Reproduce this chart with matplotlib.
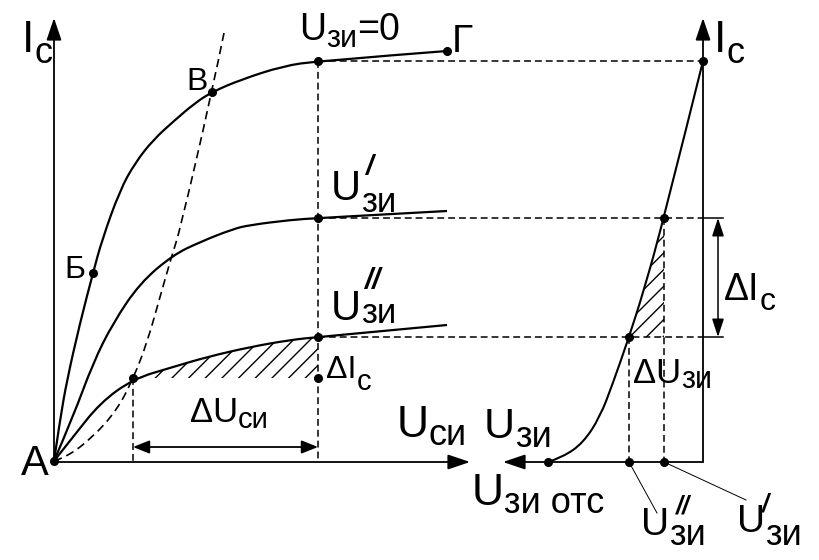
import matplotlib
matplotlib.use("Agg")
import matplotlib.pyplot as plt
from matplotlib.path import Path
from matplotlib.patches import PathPatch

plt.rcParams['font.family'] = ['Liberation Sans', 'DejaVu Sans']
plt.rcParams['hatch.linewidth'] = 1.0

# output characteristics, points (pixel units, y down)
curve_u0_x = [54, 60, 67, 80, 93, 102, 120, 135, 153, 175, 195, 212, 240, 283, 318, 447]
curve_u0_y = [461, 420, 380, 323, 273, 240, 190, 163, 140, 120, 103, 92, 80, 66, 61, 51]
curve_u1_x = [54, 73, 93, 113, 140, 173, 200, 233, 250, 290, 318, 447]
curve_u1_y = [461, 417, 363, 323, 283, 255, 242, 229, 225, 220, 218, 211]
curve_u2_x = [54, 73, 100, 133, 173, 207, 250, 290, 318, 447]
curve_u2_y = [461, 437, 403, 379, 367, 357, 347, 340, 337, 325]

# saturation border (dashed parabola)
border_x = [54, 67, 93, 117, 133, 147, 160, 172, 180, 212, 224]
border_y = [461, 457, 437, 410, 379, 343, 297, 255, 230, 92, 33]

# transfer characteristic
transfer_x = [548, 563, 583, 600, 613, 629, 644, 664, 703]
transfer_y = [462, 457, 443, 417, 383, 337, 290, 218, 61]

# reading points
u_read = 318                 # U_си where the currents are read
ic_levels = [61, 218, 337]   # I_c for U_зи = 0, U', U''
ic_low = 378                 # I_c at the left end of the hatched step
u_left = 133                 # U_си at the left end of the step
ug_x = [548, 629, 664]       # U_зи отс, U'', U'
left_origin = (54, 462)
right_origin = (703, 462)
axis_top = 18
left_axis_end = 470
right_axis_end = 503

fig = plt.figure(figsize=(8.19, 5.6), dpi=100)
ax = fig.add_axes([0, 0, 1, 1])
ax.set_xlim(0, 819)
ax.set_ylim(560, 0)
ax.axis('off')
renderer = fig.canvas.get_renderer()

K = 'black'
DASH = (0, (4.5, 2.6))


def smooth_path(xs, ys):
    verts = [(xs[0], ys[0])]
    codes = [Path.MOVETO]
    n = len(xs)
    for i in range(1, n - 1):
        verts.append((xs[i], ys[i]))
        if i < n - 2:
            verts.append(((xs[i] + xs[i + 1]) / 2, (ys[i] + ys[i + 1]) / 2))
        else:
            verts.append((xs[-1], ys[-1]))
        codes += [Path.CURVE3, Path.CURVE3]
    return verts, codes


def draw_curve(xs, ys, **kw):
    verts, codes = smooth_path(xs, ys)
    ax.add_patch(PathPatch(Path(verts, codes), facecolor='none', **kw))


def arrow(start, end, style='-|>', hl=0.68, hw=0.23, lw=1.3):
    ax.annotate('', xy=end, xytext=start,
                arrowprops=dict(arrowstyle=f'{style},head_length={hl},head_width={hw}',
                                lw=lw, color=K, shrinkA=0, shrinkB=0,
                                mutation_scale=20))


def label(x, y, main, size, sub='', sub_size=None, drop=0, tail='', mark=None):
    t = ax.text(x, y, main, fontsize=size, va='baseline', ha='left', color=K)
    bb = t.get_window_extent(renderer)
    x_end = ax.transData.inverted().transform((bb.x1, bb.y0))[0]
    if sub:
        s = ax.text(x_end, y + drop, sub, fontsize=sub_size, va='baseline', ha='left', color=K)
        bb = s.get_window_extent(renderer)
        sub_end = ax.transData.inverted().transform((bb.x1, bb.y0))[0]
        if tail:
            ax.text(sub_end, y, tail, fontsize=size, va='baseline', ha='left', color=K)
    if mark:
        txt, mx, my, msize = mark
        ax.text(mx, my, txt, fontsize=msize, va='baseline', ha='left', color=K,
                style='italic', weight='bold')


# axes
arrow(left_origin, (left_origin[0], axis_top))
arrow(left_origin, (left_axis_end, left_origin[1]))
arrow(right_origin, (right_origin[0], axis_top))
arrow(right_origin, (right_axis_end, right_origin[1]))

# guide lines
ax.plot([u_read, u_read], [ic_levels[0], left_origin[1]], color=K, lw=1.1, ls=DASH)
ax.plot([u_left, u_left], [ic_low, left_origin[1]], color=K, lw=1.1, ls=DASH)
ax.plot([u_read, right_origin[0]], [ic_levels[0]] * 2, color=K, lw=1.1, ls=DASH)
for lev in ic_levels[1:]:
    ax.plot([u_read, right_origin[0]], [lev, lev], color=K, lw=1.1, ls=DASH)
    ax.plot([right_origin[0], right_origin[0] + 20], [lev, lev], color=K, lw=1.1)
ax.plot([ug_x[1], ug_x[1]], [ic_levels[2], right_origin[1]], color=K, lw=1.1, ls=DASH)
ax.plot([ug_x[2], ug_x[2]], [ic_levels[1], right_origin[1]], color=K, lw=1.1, ls=DASH)

# hatched increments
verts, codes = smooth_path(curve_u2_x[3:9], curve_u2_y[3:9])
verts += [(u_read, ic_low), (u_left, ic_low), verts[0]]
codes += [Path.LINETO, Path.LINETO, Path.CLOSEPOLY]
ax.add_patch(PathPatch(Path(verts, codes), facecolor='none', edgecolor=K, lw=0, hatch='//'))
tri_x = transfer_x[5:8] + [ug_x[2]]
tri_y = transfer_y[5:8] + [ic_levels[2]]
ax.fill(tri_x, tri_y, facecolor='none', edgecolor=K, lw=0, hatch='//')

# curves
for xs, ys in [(curve_u0_x, curve_u0_y), (curve_u1_x, curve_u1_y), (curve_u2_x, curve_u2_y)]:
    draw_curve(xs, ys, edgecolor=K, lw=1.6)
draw_curve(border_x, border_y, edgecolor=K, lw=1.2, ls=(0, (5, 3)))
draw_curve(transfer_x, transfer_y, edgecolor=K, lw=1.5)

# increment arrows
arrow((u_left, 447), (u_read, 447), style='<|-|>', hl=0.5, hw=0.2, lw=1.3)
arrow((718, ic_levels[1]), (718, ic_levels[2]), style='<|-|>', hl=0.55, hw=0.18, lw=1.1)

# leaders
ax.plot([ug_x[1], 657], [right_origin[1], 513], color=K, lw=0.7)
ax.plot([ug_x[2], 746], [right_origin[1], 500], color=K, lw=0.7)

# points
dots_x = [54, 93, 212, u_read, 447, u_read, u_read, u_left, u_read,
          right_origin[0], ug_x[2], ug_x[1], ug_x[0], ug_x[1], ug_x[2]]
dots_y = [461, 273, 92, ic_levels[0], 51, ic_levels[1], ic_levels[2], ic_low, ic_low,
          ic_levels[0], ic_levels[1], ic_levels[2], 462, 462, 462]
ax.plot(dots_x, dots_y, 'o', color=K, ms=5.5, ls='none')

# text
label(22, 52, 'I', 32, 'c', 26, 11)
label(714, 52, 'I', 32, 'c', 26, 11)
label(299, 40, 'U', 27, 'зи', 22, 7, tail='=0')
label(452, 52, 'Г', 28)
label(186, 90, 'В', 23)
label(64, 278, 'Б', 23)
label(21, 475, 'А', 30)
label(331, 200, 'U', 30, 'зи', 25, 12, mark=('/', 365, 174, 20))
label(331, 320, 'U', 30, 'зи', 25, 3, mark=('//', 364, 289, 21))
label(326, 378, 'ΔI', 23, 'c', 21, 12)
label(190, 422, 'ΔU', 25, 'си', 21, 6)
label(397, 437, 'U', 32, 'си', 26, 8)
label(484, 438, 'U', 31, 'зи', 26, 9)
label(472, 505, 'U', 32, 'зи отс', 26, 8)
label(724, 300, 'ΔI', 27, 'c', 23, 10)
label(633, 383, 'ΔU', 25, 'зи', 22, 5)
label(641, 535, 'U', 28, 'зи', 26, 10, mark=('//', 676, 514, 18))
label(737, 532, 'U', 28, 'зи', 26, 13, mark=('/', 762, 511, 18))

fig.savefig('out.png', dpi=100)
